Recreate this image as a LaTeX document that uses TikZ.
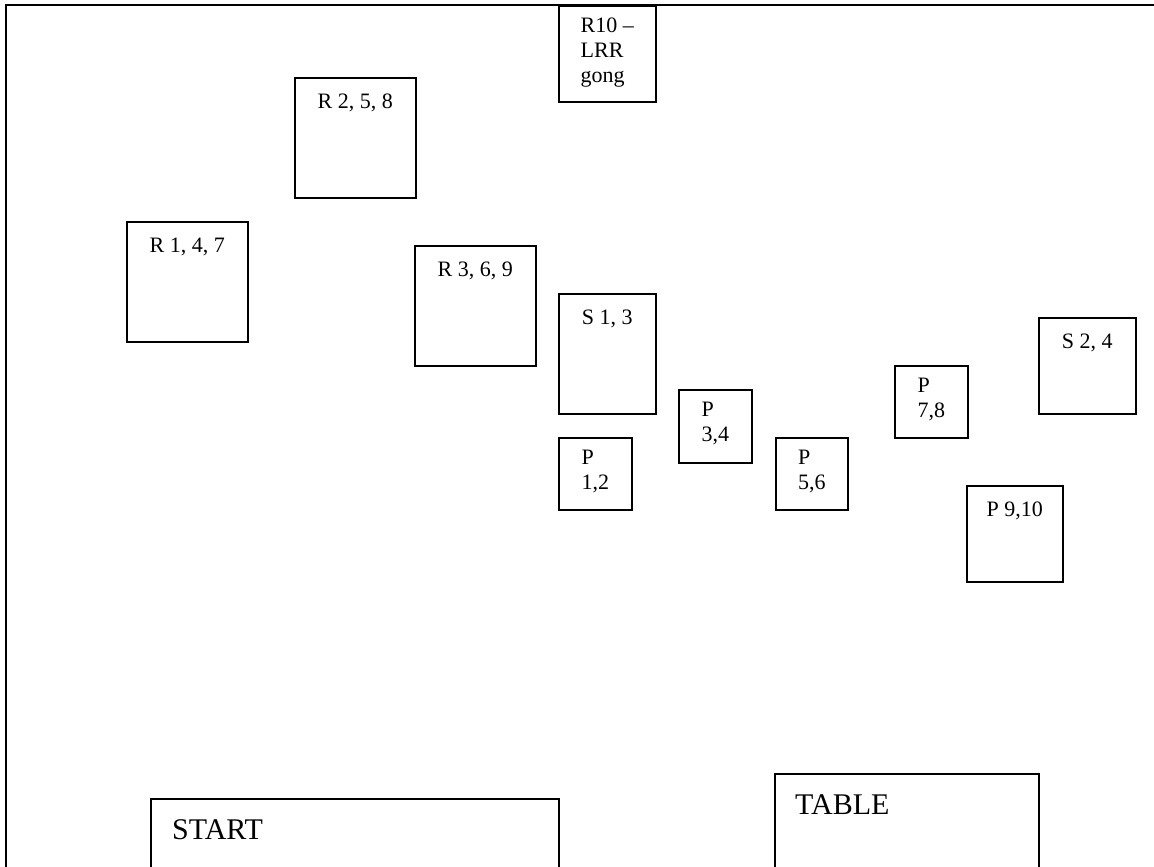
\documentclass[tikz,border=0pt]{standalone}
\usepackage{fontspec}
\setmainfont{Liberation Serif}
\usepackage{tikz}
\usetikzlibrary{positioning,calc}

\begin{document}
\begin{tikzpicture}[
  x=1pt, y=-1pt,
  frame/.style={line width=1.6pt, line cap=rect},
  box/.style 2 args={draw, line width=1.6pt, anchor=north west,
              inner sep=0pt, minimum width=#1pt, minimum height=#2pt},
  txt/.style={font=\fontsize{22}{25}\selectfont, inner sep=0pt,
              anchor=north, align=left},
  big/.style={font=\fontsize{30}{34}\selectfont, inner sep=0pt,
              anchor=north west},
]
\clip (0,0) rectangle (1154,867);
%% Outer frame (left and top edge only)
\draw[frame] (6,880) -- (6,5) -- (1160,5);
%% Row 1: gong and R boxes
\node[box={97}{96}] (r10) at (558,5) {};
\node[txt, below=13pt of r10.north] (tr10) {R10 --\\LRR\\gong};
\node[box={121}{120}] (r258) at (294,77) {};
\node[txt, below=17pt of r258.north] (tr258) {R 2, 5, 8};
\node[box={121}{120}] (r147) at (126,221) {};
\node[txt, below=17pt of r147.north] (tr147) {R 1, 4, 7};
\node[box={121}{120}] (r369) at (414,245) {};
\node[txt, below=17pt of r369.north] (tr369) {R 3, 6, 9};
%% Row 2: S boxes
\node[box={97}{120}] (s13) at (558,293) {};
\node[txt, below=17pt of s13.north] (ts13) {S 1, 3};
\node[box={97}{96}] (s24) at (1038,317) {};
\node[txt, below=17pt of s24.north] (ts24) {S 2, 4};
%% Row 3: P boxes
\node[box={73}{72}] (p12) at (558,437) {};
\node[txt, below=13pt of p12.north] (tp12) {P\\1,2};
\node[box={73}{73}] (p34) at (678,389) {};
\node[txt, below=13pt of p34.north] (tp34) {P\\3,4};
\node[box={72}{72}] (p56) at (775,437) {};
\node[txt, below=13pt of p56.north] (tp56) {P\\5,6};
\node[box={73}{72}] (p78) at (894,365) {};
\node[txt, below=13pt of p78.north] (tp78) {P\\7,8};
\node[box={96}{96}] (p910) at (966,485) {};
\node[txt, below=17pt of p910.north] (tp910) {P 9,10};
%% Bottom: start and table
\node[box={408}{120}] (start) at (150,798) {};
\node[big] (tstart) at ($(start.north west)+(22,21)$) {START};
\node[box={264}{140}] (table) at (774,773) {};
\node[big] (ttable) at ($(table.north west)+(21,21)$) {TABLE};
\end{tikzpicture}
\end{document}
